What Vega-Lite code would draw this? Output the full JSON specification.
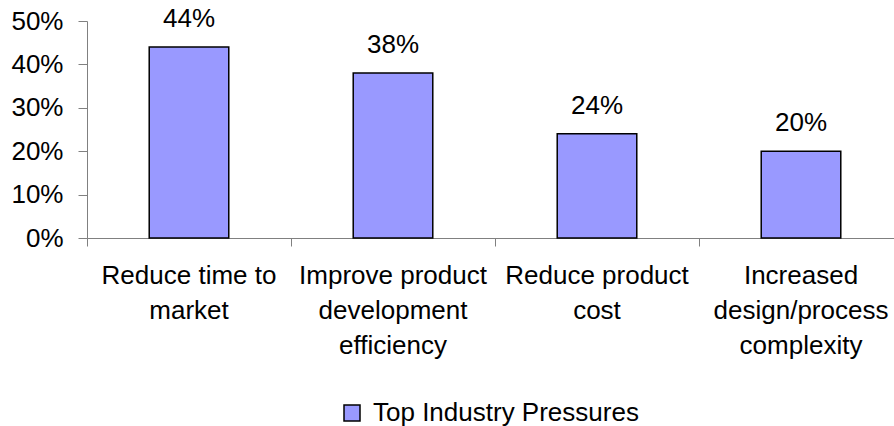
{
  "$schema": "https://vega.github.io/schema/vega-lite/v6.json",
  "width": 807,
  "height": 217,
  "autosize": {"type": "none"},
  "padding": {"left": 87, "top": 21, "right": 0, "bottom": 188},
  "background": "white",
  "config": {
    "font": "Liberation Sans",
    "view": {"stroke": null}
  },
  "data": {
    "values": [
      {"category": "Reduce time to market", "series": "Top Industry Pressures", "value": 0.44},
      {"category": "Improve product development efficiency", "series": "Top Industry Pressures", "value": 0.38},
      {"category": "Reduce product cost", "series": "Top Industry Pressures", "value": 0.24},
      {"category": "Increased design/process complexity", "series": "Top Industry Pressures", "value": 0.20}
    ]
  },
  "encoding": {
    "x": {
      "field": "category",
      "type": "nominal",
      "sort": null,
      "scale": {"range": [0, 816], "paddingInner": 0, "paddingOuter": 0},
      "axis": {
        "title": null,
        "bandPosition": 0,
        "labelAngle": 0,
        "labelAlign": "center",
        "labelBaseline": "top",
        "labelFontSize": 26,
        "labelColor": "black",
        "labelLineHeight": 35,
        "labelPadding": 16,
        "labelLimit": 400,
        "labelOverlap": false,
        "labelBound": false,
        "labelFlush": false,
        "labelExpr": "datum.label == 'Reduce time to market' ? ['Reduce time to', 'market'] : datum.label == 'Improve product development efficiency' ? ['Improve product', 'development', 'efficiency'] : datum.label == 'Reduce product cost' ? ['Reduce product', 'cost'] : ['Increased', 'design/process', 'complexity']",
        "domainColor": "#808080",
        "tickColor": "#808080",
        "tickSize": 8,
        "grid": false
      }
    },
    "y": {
      "field": "value",
      "type": "quantitative",
      "scale": {"domain": [0, 0.5], "nice": false},
      "axis": {
        "title": null,
        "format": ".0%",
        "values": [0, 0.1, 0.2, 0.3, 0.4, 0.5],
        "labelFontSize": 26,
        "labelColor": "black",
        "labelPadding": 15,
        "tickSize": 9,
        "domainColor": "#808080",
        "tickColor": "#808080",
        "grid": false
      }
    }
  },
  "layer": [
    {
      "mark": {"type": "bar", "width": {"band": 0.39}, "stroke": "black", "strokeWidth": 1.5},
      "encoding": {
        "color": {
          "field": "series",
          "type": "nominal",
          "scale": {"range": ["#9999FF"]},
          "legend": {
            "title": null,
            "orient": "none",
            "legendX": 252,
            "legendY": 379,
            "padding": 0,
            "symbolType": "square",
            "symbolSize": 256,
            "symbolStrokeColor": "black",
            "symbolStrokeWidth": 1.5,
            "symbolOpacity": 1,
            "labelFontSize": 26,
            "labelColor": "black",
            "labelOffset": 8,
            "labelLimit": 400
          }
        }
      }
    },
    {
      "mark": {"type": "text", "baseline": "alphabetic", "dy": -20, "fontSize": 26, "color": "black"},
      "encoding": {
        "text": {"field": "value", "type": "quantitative", "format": ".0%"}
      }
    }
  ]
}
